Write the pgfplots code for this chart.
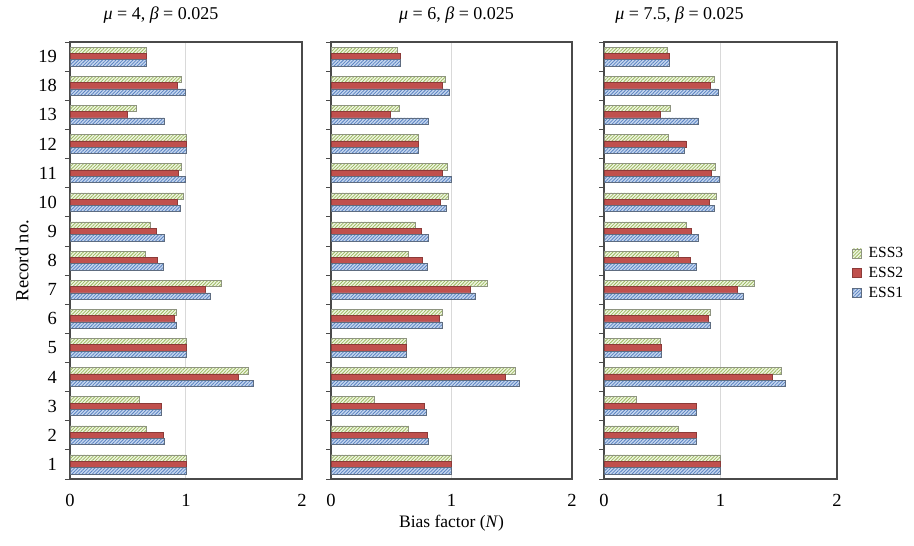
\documentclass[border=0pt]{standalone}
\usepackage{fontspec}
\setmainfont{Liberation Serif}
\usepackage{pgfplots}
\usepackage{pgfplotstable}
\pgfplotsset{compat=1.18}
\usetikzlibrary{patterns.meta}
\definecolor{essonefill}{HTML}{C6D7EE}
\definecolor{essoneline}{HTML}{5B84C4}
\definecolor{essoneedge}{HTML}{5E6C80}
\definecolor{esstwofill}{HTML}{C0504D}
\definecolor{esstwoedge}{HTML}{8C3A38}
\definecolor{essthreefill}{HTML}{F0F5E4}
\definecolor{essthreeline}{HTML}{9DBB61}
\definecolor{essthreeedge}{HTML}{8E9480}
\definecolor{axisgray}{HTML}{4A4A4A}

% columns: idx e1 e2 e3
\pgfplotstableread{
idx e1 e2 e3
0 1.000 1.000 1.000
1 0.813 0.800 0.655
2 0.787 0.787 0.600
3 1.580 1.454 1.540
4 1.000 1.000 1.000
5 0.920 0.897 0.920
6 1.210 1.164 1.305
7 0.805 0.756 0.647
8 0.816 0.747 0.695
9 0.954 0.922 0.980
10 0.994 0.934 0.963
11 1.000 1.000 1.000
12 0.816 0.494 0.569
13 0.994 0.925 0.963
14 0.655 0.655 0.655
}\tabA
\pgfplotstableread{
idx e1 e2 e3
0 1.000 1.000 1.000
1 0.809 0.796 0.644
2 0.787 0.773 0.359
3 1.566 1.442 1.533
4 0.622 0.622 0.622
5 0.923 0.900 0.923
6 1.199 1.155 1.296
7 0.798 0.757 0.644
8 0.809 0.749 0.699
9 0.953 0.909 0.975
10 0.994 0.920 0.961
11 0.727 0.727 0.727
12 0.809 0.492 0.564
13 0.983 0.920 0.950
14 0.572 0.572 0.552
}\tabB
\pgfplotstableread{
idx e1 e2 e3
0 1.000 1.000 1.000
1 0.795 0.795 0.639
2 0.790 0.790 0.276
3 1.557 1.443 1.523
4 0.490 0.490 0.480
5 0.915 0.892 0.915
6 1.199 1.142 1.293
7 0.795 0.744 0.639
8 0.810 0.747 0.702
9 0.946 0.900 0.966
10 0.991 0.923 0.957
11 0.693 0.702 0.554
12 0.810 0.483 0.565
13 0.977 0.912 0.949
14 0.5625 0.5625 0.543
}\tabC

\pgfplotsset{
  panel/.style={
    xbar, scale only axis, height=437pt,
    xmin=0, xmax=2, ymin=-0.5, ymax=14.5,
    ytick={0,...,14},
    yticklabels={1,2,3,4,5,6,7,8,9,10,11,12,13,18,19},
    xtick={0,1,2},
    major tick length=0pt,
    minor ytick={-0.5,0.5,...,14.5},
    minor tick length=5pt,
    tick align=outside,
    ytick pos=left, xtick pos=bottom,
    minor tick style={axisgray, line width=0.8pt},
    xmajorgrids, major grid style={black!15, line width=1pt},
    axis line style={axisgray, line width=1.3pt},
    bar width=6.3pt,
    tick label style={font=\fontsize{18.5}{21}\selectfont},
    /pgf/number format/assume math mode=true,
    yticklabel style={anchor=east, inner xsep=0pt, xshift=-13pt},
    xticklabel style={anchor=center, yshift=-21pt},
    title style={at={(axis description cs:0.5,1)}, anchor=center, yshift=21pt, font=\fontsize{18}{21}\selectfont},
    legend image code/.code={\draw[##1, bar shift=0pt] (0pt,-4.5pt) rectangle (9pt,4.5pt);},
  },
  essthree/.style={xbar, bar shift=6.3pt, fill=essthreefill, draw=essthreeedge, line width=0.5pt,
    postaction={pattern={Lines[angle=45,distance=2.4pt,line width=0.8pt]}, pattern color=essthreeline}},
  esstwo/.style={xbar, bar shift=0pt, fill=esstwofill, draw=esstwoedge, line width=0.5pt},
  essone/.style={xbar, bar shift=-6.3pt, fill=essonefill, draw=essoneedge, line width=0.5pt,
    postaction={pattern={Lines[angle=45,distance=2.4pt,line width=0.8pt]}, pattern color=essoneline}},
}

\begin{document}
\begin{tikzpicture}[x=1pt,y=1pt]
\path[use as bounding box] (0,0) rectangle (914,546);

\begin{axis}[panel, at={(70pt,67pt)}, anchor=south west, width=232pt,
  title={\textit{μ} = 4, \textit{β} = 0.025},
  title style={xshift=-25pt},
  ylabel={Record no.},
  ylabel style={at={(axis description cs:-0.2069,0.5)}, anchor=center, rotate=0, font=\fontsize{18.5}{21}\selectfont}]
\addplot[essthree] table[x=e3, y=idx] {\tabA};
\addplot[esstwo] table[x=e2, y=idx] {\tabA};
\addplot[essone] table[x=e1, y=idx] {\tabA};
\end{axis}

\begin{axis}[panel, at={(331pt,67pt)}, anchor=south west, width=241pt,
  yticklabels={}, 
  title={\textit{μ} = 6, \textit{β} = 0.025},
  title style={xshift=5pt},
  xlabel={Bias factor (\textit{N})},
  xlabel style={at={(axis description cs:0.5,0)}, anchor=center, yshift=-44pt, font=\fontsize{17.5}{21}\selectfont}]
\addplot[essthree] table[x=e3, y=idx] {\tabB};
\addplot[esstwo] table[x=e2, y=idx] {\tabB};
\addplot[essone] table[x=e1, y=idx] {\tabB};
\end{axis}

\begin{axis}[panel, at={(604pt,67pt)}, anchor=south west, width=233pt,
  yticklabels={},
  title={\textit{μ} = 7.5, \textit{β} = 0.025},
  title style={xshift=-41pt},
  legend style={at={(axis description cs:1,0.471)}, anchor=west, xshift=12pt, draw=none, fill=none,
    font=\fontsize{15.5}{18}\selectfont, row sep=4pt, legend cell align=left,
    nodes={inner xsep=7pt}},
  ]
\addplot[essthree] table[x=e3, y=idx] {\tabC};
\addplot[esstwo] table[x=e2, y=idx] {\tabC};
\addplot[essone] table[x=e1, y=idx] {\tabC};
\legend{ESS3,ESS2,ESS1}
\end{axis}
\end{tikzpicture}
\end{document}
